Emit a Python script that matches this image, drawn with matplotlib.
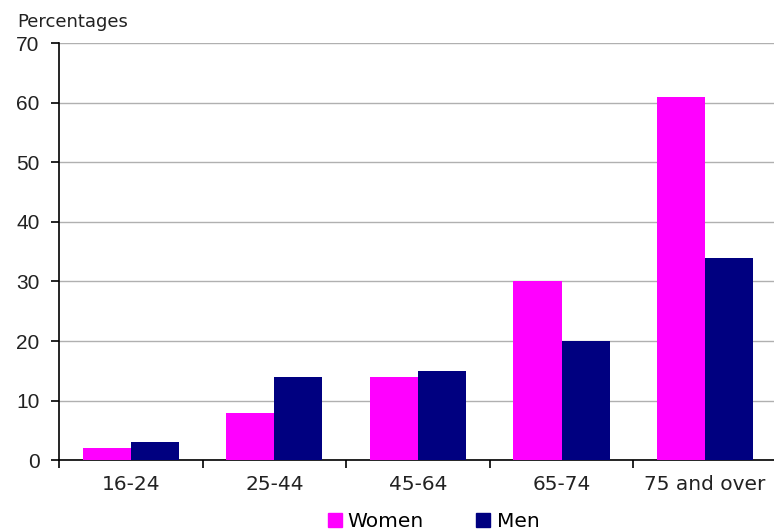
import numpy as np
import matplotlib
matplotlib.use("Agg")
import matplotlib.pyplot as plt
from matplotlib.patches import Patch

categories = ["16-24", "25-44", "45-64", "65-74", "75 and over"]
women = [2, 8, 14, 30, 61]
men = [3, 14, 15, 20, 34]

fig = plt.figure(figsize=(7.74, 5.32), dpi=100)
ax = fig.add_axes([0.0762, 0.135, 0.9238, 0.784])

x = np.arange(len(categories))
w = 0.335
ax.bar(x - w / 2, women, width=w, color="#FF00FF", zorder=3)
ax.bar(x + w / 2, men, width=w, color="#000080", zorder=3)

ax.set_xlim(-0.5, 4.48)
ax.set_ylim(0, 70)
ax.set_yticks(range(0, 71, 10))
ax.yaxis.grid(True, color="#B0B0B0", linewidth=1, zorder=0)

ax.set_xticks(np.arange(-0.5, 4.5, 1.0))
ax.set_xticklabels([])
ax.set_xticks(x, minor=True)
ax.set_xticklabels(categories, minor=True, fontsize=14.5, color="#222222")
ax.tick_params(axis="x", which="minor", length=0, pad=11)
ax.tick_params(axis="x", which="major", length=6, width=1.2, direction="out")
ax.tick_params(axis="y", length=6, width=1.2, direction="out", pad=8,
               labelsize=15)
for lab in ax.get_yticklabels():
    lab.set_family("Liberation Sans")
    lab.set_color("#222222")

for s in ["top", "right"]:
    ax.spines[s].set_visible(False)
ax.spines["left"].set_linewidth(1.2)
ax.spines["bottom"].set_linewidth(1.2)

fig.text(0.022, 0.949, "Percentages", fontsize=13, va="baseline",
         color="#222222")

handles = [Patch(color="#FF00FF", label="Women"), Patch(color="#000080", label="Men")]
fig.legend(handles=handles, loc="lower center", bbox_to_anchor=(0.56, -0.032),
           ncol=2, frameon=False, fontsize=14.5, handlelength=0.7, handleheight=0.7,
           handletextpad=0.3, columnspacing=2.6)

fig.savefig("out.png", dpi=100)
